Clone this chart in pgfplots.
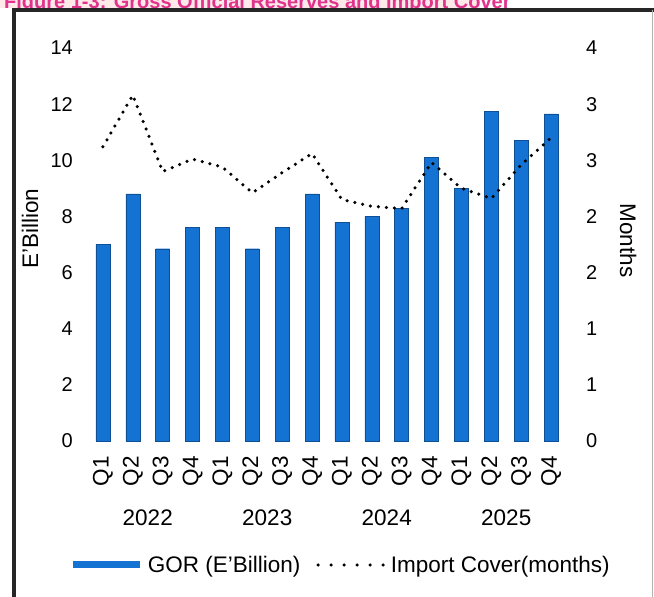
\documentclass[border=0pt]{standalone}
\usepackage{fontspec}
\setmainfont{Liberation Sans}
\usepackage{pgfplots}
\pgfplotsset{compat=1.18}
\definecolor{gorblue}{RGB}{20,114,210}
\definecolor{titlepink}{RGB}{225,50,140}
\newcommand{\fs}{\fontsize{20}{24}\selectfont}
\newcommand{\fl}{\fontsize{22.5}{26}\selectfont}
\begin{document}
\begin{tikzpicture}
\path[use as bounding box] (0pt,0pt) rectangle (654pt,597pt);
\fill[pink!35] (0pt,589pt) rectangle (480pt,597pt);
\begin{scope}
\clip (0pt,589pt) rectangle (654pt,597pt);
\node[anchor=base west, text=titlepink, font=\fs\bfseries, inner sep=0pt] at (4pt,588pt) {Figure 1-3: Gross Official Reserves and Import Cover};
\end{scope}
\draw[line width=4pt, black!85] (14pt,0pt) -- (14pt,587pt) -- (654pt,587pt);
\draw[gray!60, line width=1pt] (652pt,587pt) -- (652pt,0pt);

\begin{axis}[
  at={(88pt,156pt)}, anchor=south west, scale only axis,
  width=478pt, height=393pt,
  xmin=-0.5, xmax=15.5, ymin=0, ymax=14,
  axis y line*=left, axis x line*=bottom,
  axis line style={draw=none}, major tick length=0pt,
  ytick={0,2,...,14},
  xtick={0,...,15},
  xticklabels={Q1,Q2,Q3,Q4,Q1,Q2,Q3,Q4,Q1,Q2,Q3,Q4,Q1,Q2,Q3,Q4},
  xticklabel style={rotate=90, anchor=east, font=\fl, inner sep=0pt, xshift=-15pt},
  yticklabel style={font=\fs, inner sep=0pt, xshift=-15pt},
  /pgf/number format/assume math mode=true,
  ylabel={E'Billion}, ylabel style={font=\fl, at={(rel axis cs:-0.121,0.54)}, anchor=center, rotate=0},
  clip=false,
  legend style={at={(rel axis cs:0.529,-0.3155)}, anchor=center, draw=none, font=\fl, legend columns=-1, column sep=2pt, /tikz/every even column/.append style={column sep=14pt}},
]
\addplot[ybar, bar width=14pt, fill=gorblue, draw=gorblue!70!black,
  legend image code/.code={\draw[line width=7pt, gorblue] (0pt,0pt) -- (67pt,0pt);}]
 coordinates {(0,7.0) (1,8.8) (2,6.85) (3,7.6) (4,7.6) (5,6.85) (6,7.6) (7,8.8)
              (8,7.8) (9,8.0) (10,8.3) (11,10.1) (12,9.0) (13,11.75) (14,10.7) (15,11.65)};
\addlegendentry{GOR (E'Billion)}
\addlegendimage{legend image code/.code={\draw[black, line width=3.5pt, line cap=round, dash pattern=on 0pt off 13pt] (1pt,0pt) -- (68pt,0pt);}}
\addlegendentry{Import Cover(months)}
\node[font=\fl] at (axis cs:1.5,0) [yshift=-77pt] {2022};
\node[font=\fl] at (axis cs:5.5,0) [yshift=-77pt] {2023};
\node[font=\fl] at (axis cs:9.5,0) [yshift=-77pt] {2024};
\node[font=\fl] at (axis cs:13.5,0) [yshift=-77pt] {2025};
\end{axis}

\begin{axis}[
  at={(88pt,156pt)}, anchor=south west, scale only axis,
  width=478pt, height=393pt,
  xmin=-0.5, xmax=15.5, ymin=0, ymax=3.5,
  axis y line*=right, axis x line=none,
  axis line style={draw=none}, major tick length=0pt,
  ytick={0,0.5,...,3.5},
  yticklabels={0,1,1,2,2,3,3,4},
  yticklabel style={font=\fs, inner sep=0pt, xshift=20pt},
  ylabel={Months}, ylabel style={font=\fl, at={(rel axis cs:1.13,0.51)}, anchor=center, rotate=180},
  clip=false,
]
\addplot[black, line width=3.5pt, line cap=round, dash pattern=on 0pt off 8pt]
 coordinates {(0,2.62) (1,3.08) (2,2.40) (3,2.51) (4,2.44) (5,2.21) (6,2.39) (7,2.56)
              (8,2.15) (9,2.09) (10,2.07) (11,2.48) (12,2.25) (13,2.16) (14,2.46) (15,2.70)};
\end{axis}
\end{tikzpicture}
\end{document}
